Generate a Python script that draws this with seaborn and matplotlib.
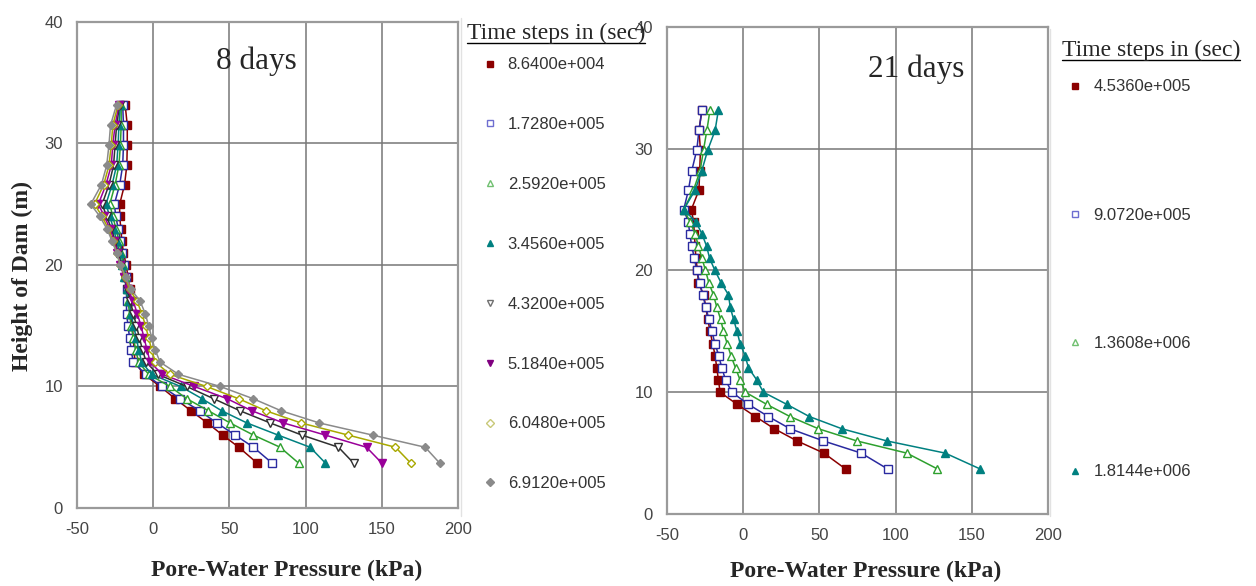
import numpy as np
import pandas as pd
import seaborn as sns
import matplotlib.pyplot as plt
from matplotlib.lines import Line2D

# node heights (m), top of dam down to the base nodes
heights = [33.2, 31.5, 29.9, 28.2, 26.6, 25.0, 24, 23, 22, 21, 20, 19, 18, 17, 16,
           15, 14, 13, 12, 11, 10, 9, 8, 7, 6, 5, 3.7]

# ---- 8 days: pore-water pressure (kPa) per time step
steps_8d = ["8.6400e+004", "1.7280e+005", "2.5920e+005", "3.4560e+005",
            "4.3200e+005", "5.1840e+005", "6.0480e+005", "6.9120e+005"]
pwp_8d_1 = [-18.4, -17.0, -17.0, -17.3, -18.8, -22.0, -22.0, -21.2, -20.6, -19.5, -17.7, -16.5, -15.5, -15.0,
            -14.5, -13.8, -13.0, -12.5, -12.0, -6.0, 4.6, 14.4, 24.8, 35.5, 45.6, 56.2, 68.2]
pwp_8d_2 = [-20.0, -19.5, -19.5, -20.0, -22.0, -25.5, -24.5, -23.0, -21.5, -20.5, -19.0, -18.0, -17.5, -17.5,
            -17.5, -16.5, -15.5, -14.5, -13.0, -5.0, 5.7, 17.7, 30.4, 41.8, 53.8, 65.8, 78.0]
pwp_8d_3 = [-21.0, -21.0, -21.5, -22.5, -25.0, -28.5, -26.5, -24.5, -22.5, -21.0, -19.5, -18.5, -17.5, -16.5,
            -15.5, -14.5, -13.0, -11.5, -9.5, -3.0, 11.0, 22.0, 36.3, 50.5, 65.8, 83.3, 95.4]
pwp_8d_4 = [-21.5, -22.5, -23.0, -24.0, -27.0, -31.0, -28.5, -26.0, -24.0, -22.0, -20.5, -19.0, -17.5, -16.0,
            -14.5, -13.0, -11.0, -9.5, -7.5, -1.0, 18.0, 32.0, 45.0, 61.5, 82.0, 103.0, 113.0]
pwp_8d_5 = [-22.0, -24.0, -25.0, -26.0, -29.0, -33.5, -30.5, -27.5, -25.0, -23.0, -21.0, -19.0, -17.0, -15.0,
            -13.0, -11.0, -9.0, -7.0, -4.5, 3.0, 22.0, 39.6, 57.0, 76.8, 97.6, 121.6, 131.5]
pwp_8d_6 = [-22.5, -25.0, -26.5, -27.5, -31.0, -36.0, -32.0, -28.5, -25.5, -23.5, -21.5, -19.0, -16.5, -13.0,
            -10.5, -8.0, -6.0, -4.0, -2.0, 6.0, 27.0, 48.4, 64.8, 85.5, 113.0, 140.0, 150.0]
pwp_8d_7 = [-23.0, -26.5, -27.5, -29.0, -32.5, -38.5, -33.5, -29.5, -26.5, -24.0, -21.5, -18.5, -15.5, -10.5,
            -7.5, -5.0, -3.0, -1.0, 1.5, 11.0, 35.0, 56.0, 74.0, 97.0, 128.0, 159.0, 169.0]
pwp_8d_8 = [-24.0, -28.0, -29.0, -30.5, -34.0, -41.0, -35.0, -30.5, -27.0, -24.0, -21.5, -18.0, -14.5, -8.5,
            -5.2, -3.0, -0.9, 1.3, 4.6, 16.6, 44.0, 65.5, 84.0, 109.0, 144.0, 178.5, 188.0]

# ---- 21 days
steps_21d = ["4.5360e+005", "9.0720e+005", "1.3608e+006", "1.8144e+006"]
pwp_21d_1 = [-27.0, -29.0, -28.0, -28.5, -29.0, -34.0, -32.5, -32.0, -31.5, -31.0, -30.0, -29.3, -26.0, -24.5,
             -23.2, -21.7, -20.0, -18.4, -17.3, -16.2, -15.1, -3.9, 8.1, 20.5, 35.4, 53.0, 67.2]
pwp_21d_2 = [-27.0, -29.0, -30.4, -33.7, -35.9, -39.0, -36.0, -35.0, -33.7, -32.0, -30.4, -28.5, -26.5, -24.5,
             -22.5, -20.5, -18.5, -16.0, -14.0, -11.5, -7.4, 3.5, 16.6, 30.8, 52.7, 77.5, 94.8]
pwp_21d_3 = [-21.7, -23.8, -26.0, -28.2, -32.6, -39.0, -34.8, -31.5, -29.3, -27.0, -24.7, -22.5, -19.5, -17.3,
             -14.8, -12.9, -10.5, -8.0, -5.0, -2.0, 1.5, 15.5, 30.8, 49.4, 74.6, 107.4, 127.5]
pwp_21d_4 = [-16.2, -18.4, -23.2, -27.1, -31.5, -39.0, -31.0, -27.0, -24.0, -22.0, -18.5, -14.5, -9.6, -8.5,
             -6.3, -4.0, -2.0, 1.3, 3.5, 9.0, 13.3, 28.7, 43.5, 64.8, 94.3, 132.6, 155.5]

series_8d = [pwp_8d_1, pwp_8d_2, pwp_8d_3, pwp_8d_4, pwp_8d_5, pwp_8d_6, pwp_8d_7, pwp_8d_8]
series_21d = [pwp_21d_1, pwp_21d_2, pwp_21d_3, pwp_21d_4]

# styles (line colour, marker, marker face, legend marker colour)
sty_8d = [("#8b0000", "s", "#8b0000", "#8b0000"),
          ("#2a2aa0", "s", "white", "#6e6ed0"),
          ("#2ea02e", "^", "white", "#70c070"),
          ("#008080", "^", "#008080", "#008080"),
          ("#303030", "v", "white", "#707070"),
          ("#990099", "v", "#990099", "#800080"),
          ("#a8a800", "D", "white", "#c8c878"),
          ("#8a8a8a", "D", "#8a8a8a", "#8a8a8a")]
sty_21d = [sty_8d[0], sty_8d[1], sty_8d[2], sty_8d[3]]


def long_df(steps, series):
    return pd.DataFrame({
        "height": heights * len(steps),
        "pwp": np.concatenate(series),
        "step": np.repeat(steps, len(heights)),
    })


df8 = long_df(steps_8d, series_8d)
df21 = long_df(steps_21d, series_21d)

sns.set_style("white")
plt.rcParams["font.family"] = ["Liberation Sans", "DejaVu Sans"]
plt.rcParams["axes.unicode_minus"] = False

fig = plt.figure(figsize=(12.56, 5.86), dpi=100)
ax1 = fig.add_axes([0.0613, 0.1331, 0.3033, 0.8294])
ax2 = fig.add_axes([0.5310, 0.1229, 0.3033, 0.8311])

serif_b = dict(family="Liberation Serif", weight="bold", size=17)


def draw_panel(ax, df, steps, styles):
    for s, (c, m, fc, _) in zip(steps, styles):
        sns.lineplot(data=df[df["step"] == s], x="pwp", y="height", sort=False, estimator=None,
                     color=c, marker=m, markersize=5.5 if m != "D" else 4.5, markerfacecolor=fc,
                     markeredgecolor=c, markeredgewidth=1.0, lw=1.1, ax=ax, legend=False)
    ax.set_xlim(-50, 200)
    ax.set_ylim(0, 40)
    ax.set_xticks([-50, 0, 50, 100, 150, 200])
    ax.set_yticks([0, 10, 20, 30, 40])
    ax.grid(True, color="#777777", lw=1.1)
    ax.set_axisbelow(True)
    for sp in ax.spines.values():
        sp.set_color("#9a9a9a")
        sp.set_linewidth(1.6)
    ax.tick_params(direction="out", length=6, width=1.1, color="#888888", labelsize=12,
                   labelcolor="#444444", pad=4)
    ax.set_xlabel("Pore-Water Pressure (kPa)", fontdict=serif_b)
    ax.set_ylabel("")


draw_panel(ax1, df8, steps_8d, sty_8d)
draw_panel(ax2, df21, steps_21d, sty_21d)

ax1.set_ylabel("Height of Dam (m)", fontdict=serif_b)
ax1.yaxis.set_label_coords(-0.115, 0.477)
ax1.xaxis.set_label_coords(0.549, -0.107)
ax2.xaxis.set_label_coords(0.522, -0.097)

ax1.text(68, 36.8, "8 days", family="Liberation Serif", size=22.5, ha="center", va="center")
ax2.text(113.5, 36.5, "21 days", family="Liberation Serif", size=22.5, ha="center", va="center")


def side_legend(steps, styles, x, y, spacing, pad):
    handles = [Line2D([], [], ls="none", marker=m, color=lc, markersize=5 if m != "D" else 4,
                      markerfacecolor=(lc if fc != "white" else "white"), markeredgecolor=lc)
               for (_, m, fc, lc) in styles]
    fig.legend(handles, steps, loc="upper left", bbox_to_anchor=(x, y), frameon=False,
               borderpad=0, borderaxespad=0, handlelength=0.8, handletextpad=pad,
               labelspacing=spacing, prop={"family": "Liberation Sans", "size": 12},
               labelcolor="#333333")


side_legend(steps_8d, sty_8d, 0.3848, 0.902, 2.69, 0.66)
side_legend(steps_21d, sty_21d, 0.8506, 0.8644, 6.8, 0.7)

titles = [fig.text(467 / 1256, 1 - 33 / 586, "Time steps in (sec)", family="Liberation Serif",
                   size=17, ha="left", va="center"),
          fig.text(1062 / 1256, 1 - 50 / 586, "Time steps in (sec)", family="Liberation Serif",
                   size=17, ha="left", va="center")]

# faint separators at the legend edges
fig.add_artist(Line2D([461 / 1256] * 2, [0.12, 0.97], color="#e2e2e2", lw=1))
fig.add_artist(Line2D([1050 / 1256] * 2, [0.12, 0.95], color="#e2e2e2", lw=1))

fig.canvas.draw()
r = fig.canvas.get_renderer()
for t in titles:
    bb = t.get_window_extent(r)
    fig.add_artist(Line2D([bb.x0 / 1256, bb.x1 / 1256], [(bb.y0 + 1) / 586] * 2,
                          color="black", lw=1))

fig.savefig("out.png", dpi=100)
